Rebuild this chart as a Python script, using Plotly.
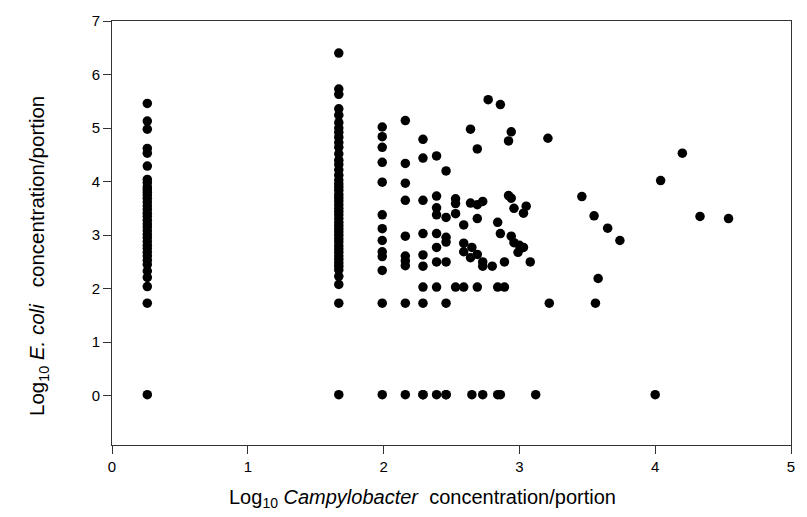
import plotly.graph_objects as go

# Log10 E. coli values for the two vertical stacks of samples
stack_a_x = 0.26
stack_a_y = [5.46, 5.13, 4.98, 4.62, 4.53, 4.29, 4.04, 3.98, 3.90, 3.85, 3.80,
             3.75, 3.69, 3.62, 3.55, 3.48, 3.41, 3.35, 3.28, 3.21, 3.15, 3.08,
             3.01, 2.95, 2.88, 2.81, 2.75, 2.68, 2.61, 2.53, 2.45, 2.33, 2.21,
             2.04, 1.73, 0.02]

stack_b_x = 1.67
stack_b_y = [6.40, 5.73, 5.63, 5.36, 5.24, 5.10, 5.00, 4.92, 4.83, 4.73, 4.64,
             4.52, 4.40, 4.32, 4.22, 4.12, 4.03, 3.96, 3.90, 3.84, 3.76, 3.70,
             3.64, 3.57, 3.50, 3.44, 3.38, 3.31, 3.24, 3.18, 3.12, 3.06, 3.00,
             2.93, 2.87, 2.80, 2.74, 2.68, 2.61, 2.55, 2.48, 2.42, 2.35, 2.23,
             2.08, 1.73, 0.02]

# Scattered samples: Log10 Campylobacter / Log10 E. coli pairs
campy = [1.99, 1.99, 1.99, 1.99, 1.99, 1.99, 1.99, 1.99, 1.99, 1.99, 1.99, 1.99, 1.99,
         2.16, 2.16, 2.16, 2.16, 2.16, 2.16, 2.16, 2.16, 2.16, 2.16,
         2.29, 2.29, 2.29, 2.29, 2.29, 2.29, 2.29, 2.29, 2.29, 2.29,
         2.39, 2.39, 2.39, 2.39, 2.39, 2.39, 2.39, 2.39, 2.39,
         2.46, 2.46, 2.46, 2.46, 2.46, 2.46, 2.46, 2.46,
         2.53, 2.53, 2.53, 2.53,
         2.59, 2.59, 2.59, 2.59,
         2.64, 2.64, 2.64, 2.65, 2.65,
         2.69, 2.69, 2.69, 2.69, 2.69,
         2.73, 2.73, 2.73, 2.73,
         2.77, 2.80,
         2.84, 2.84, 2.84,
         2.86, 2.86, 2.86,
         2.89, 2.89,
         2.92, 2.92, 2.94, 2.94, 2.94, 2.96, 2.96, 2.99, 3.00, 3.03, 3.03, 3.05,
         3.08, 3.12, 3.21, 3.22,
         3.46, 3.55, 3.56, 3.58, 3.65, 3.74,
         4.00, 4.04, 4.20, 4.33, 4.54]
ecoli = [5.02, 4.84, 4.64, 4.36, 3.99, 3.38, 3.12, 2.90, 2.69, 2.60, 2.34, 1.73, 0.02,
         5.14, 4.34, 3.97, 3.65, 2.98, 2.61, 2.52, 2.43, 1.73, 0.02,
         4.79, 4.44, 3.65, 3.03, 2.63, 2.42, 2.03, 1.73, 0.02, 0.02,
         4.48, 3.73, 3.51, 3.38, 3.03, 2.77, 2.50, 2.03, 0.02,
         4.20, 3.33, 2.96, 2.87, 2.50, 1.73, 0.02, 0.02,
         3.68, 3.59, 3.40, 2.03,
         3.19, 2.85, 2.69, 2.03,
         4.98, 3.60, 2.58, 2.77, 0.02,
         4.61, 3.57, 3.31, 2.64, 2.03,
         3.63, 2.50, 2.42, 0.02,
         5.53, 2.42,
         3.24, 2.03, 0.02,
         5.44, 3.03, 0.02,
         2.50, 2.03,
         4.76, 3.74, 4.93, 3.69, 2.98, 3.50, 2.86, 2.68, 2.81, 2.77, 3.41, 3.54,
         2.50, 0.02, 4.81, 1.73,
         3.72, 3.36, 1.73, 2.19, 3.13, 2.90,
         0.02, 4.02, 4.53, 3.35, 3.31]

x_ticks = [0, 1, 2, 3, 4, 5]
y_ticks = [0, 1, 2, 3, 4, 5, 6, 7]

xs = [stack_a_x] * len(stack_a_y) + [stack_b_x] * len(stack_b_y) + campy
ys = stack_a_y + stack_b_y + ecoli

fig = go.Figure(go.Scatter(
    x=xs, y=ys, mode="markers",
    marker=dict(color="black", size=9.5, symbol="circle", line=dict(width=0)),
    showlegend=False,
))

axis_common = dict(
    showgrid=False, zeroline=False,
    showline=True, linecolor="#333333", linewidth=1, mirror=True,
    ticks="outside", ticklen=8, tickwidth=1, tickcolor="#333333",
    tickfont=dict(family="Liberation Sans, Arial, sans-serif", size=15, color="black"),
)

fig.update_xaxes(range=[0, 5], tickvals=x_ticks, **axis_common)
fig.update_yaxes(range=[-0.92, 7], tickvals=y_ticks, **axis_common)

fig.add_annotation(
    text="Log<sub>10</sub> <i>Campylobacter</i>  concentration/portion",
    xref="paper", yref="paper", x=0.457, y=-0.127, xanchor="center", yanchor="middle",
    showarrow=False,
    font=dict(family="Liberation Sans, Arial, sans-serif", size=20, color="black"),
)
fig.add_annotation(
    text="Log<sub>10</sub> <i>E. coli</i>   concentration/portion",
    xref="paper", yref="paper", x=-0.108, y=0.445, xanchor="center", yanchor="middle",
    textangle=-90, showarrow=False,
    font=dict(family="Liberation Sans, Arial, sans-serif", size=20.5, color="black"),
)

fig.update_layout(
    width=807, height=517,
    margin=dict(l=112, r=12, t=13, b=72),
    paper_bgcolor="white", plot_bgcolor="white",
)

fig.write_html("out.html")
